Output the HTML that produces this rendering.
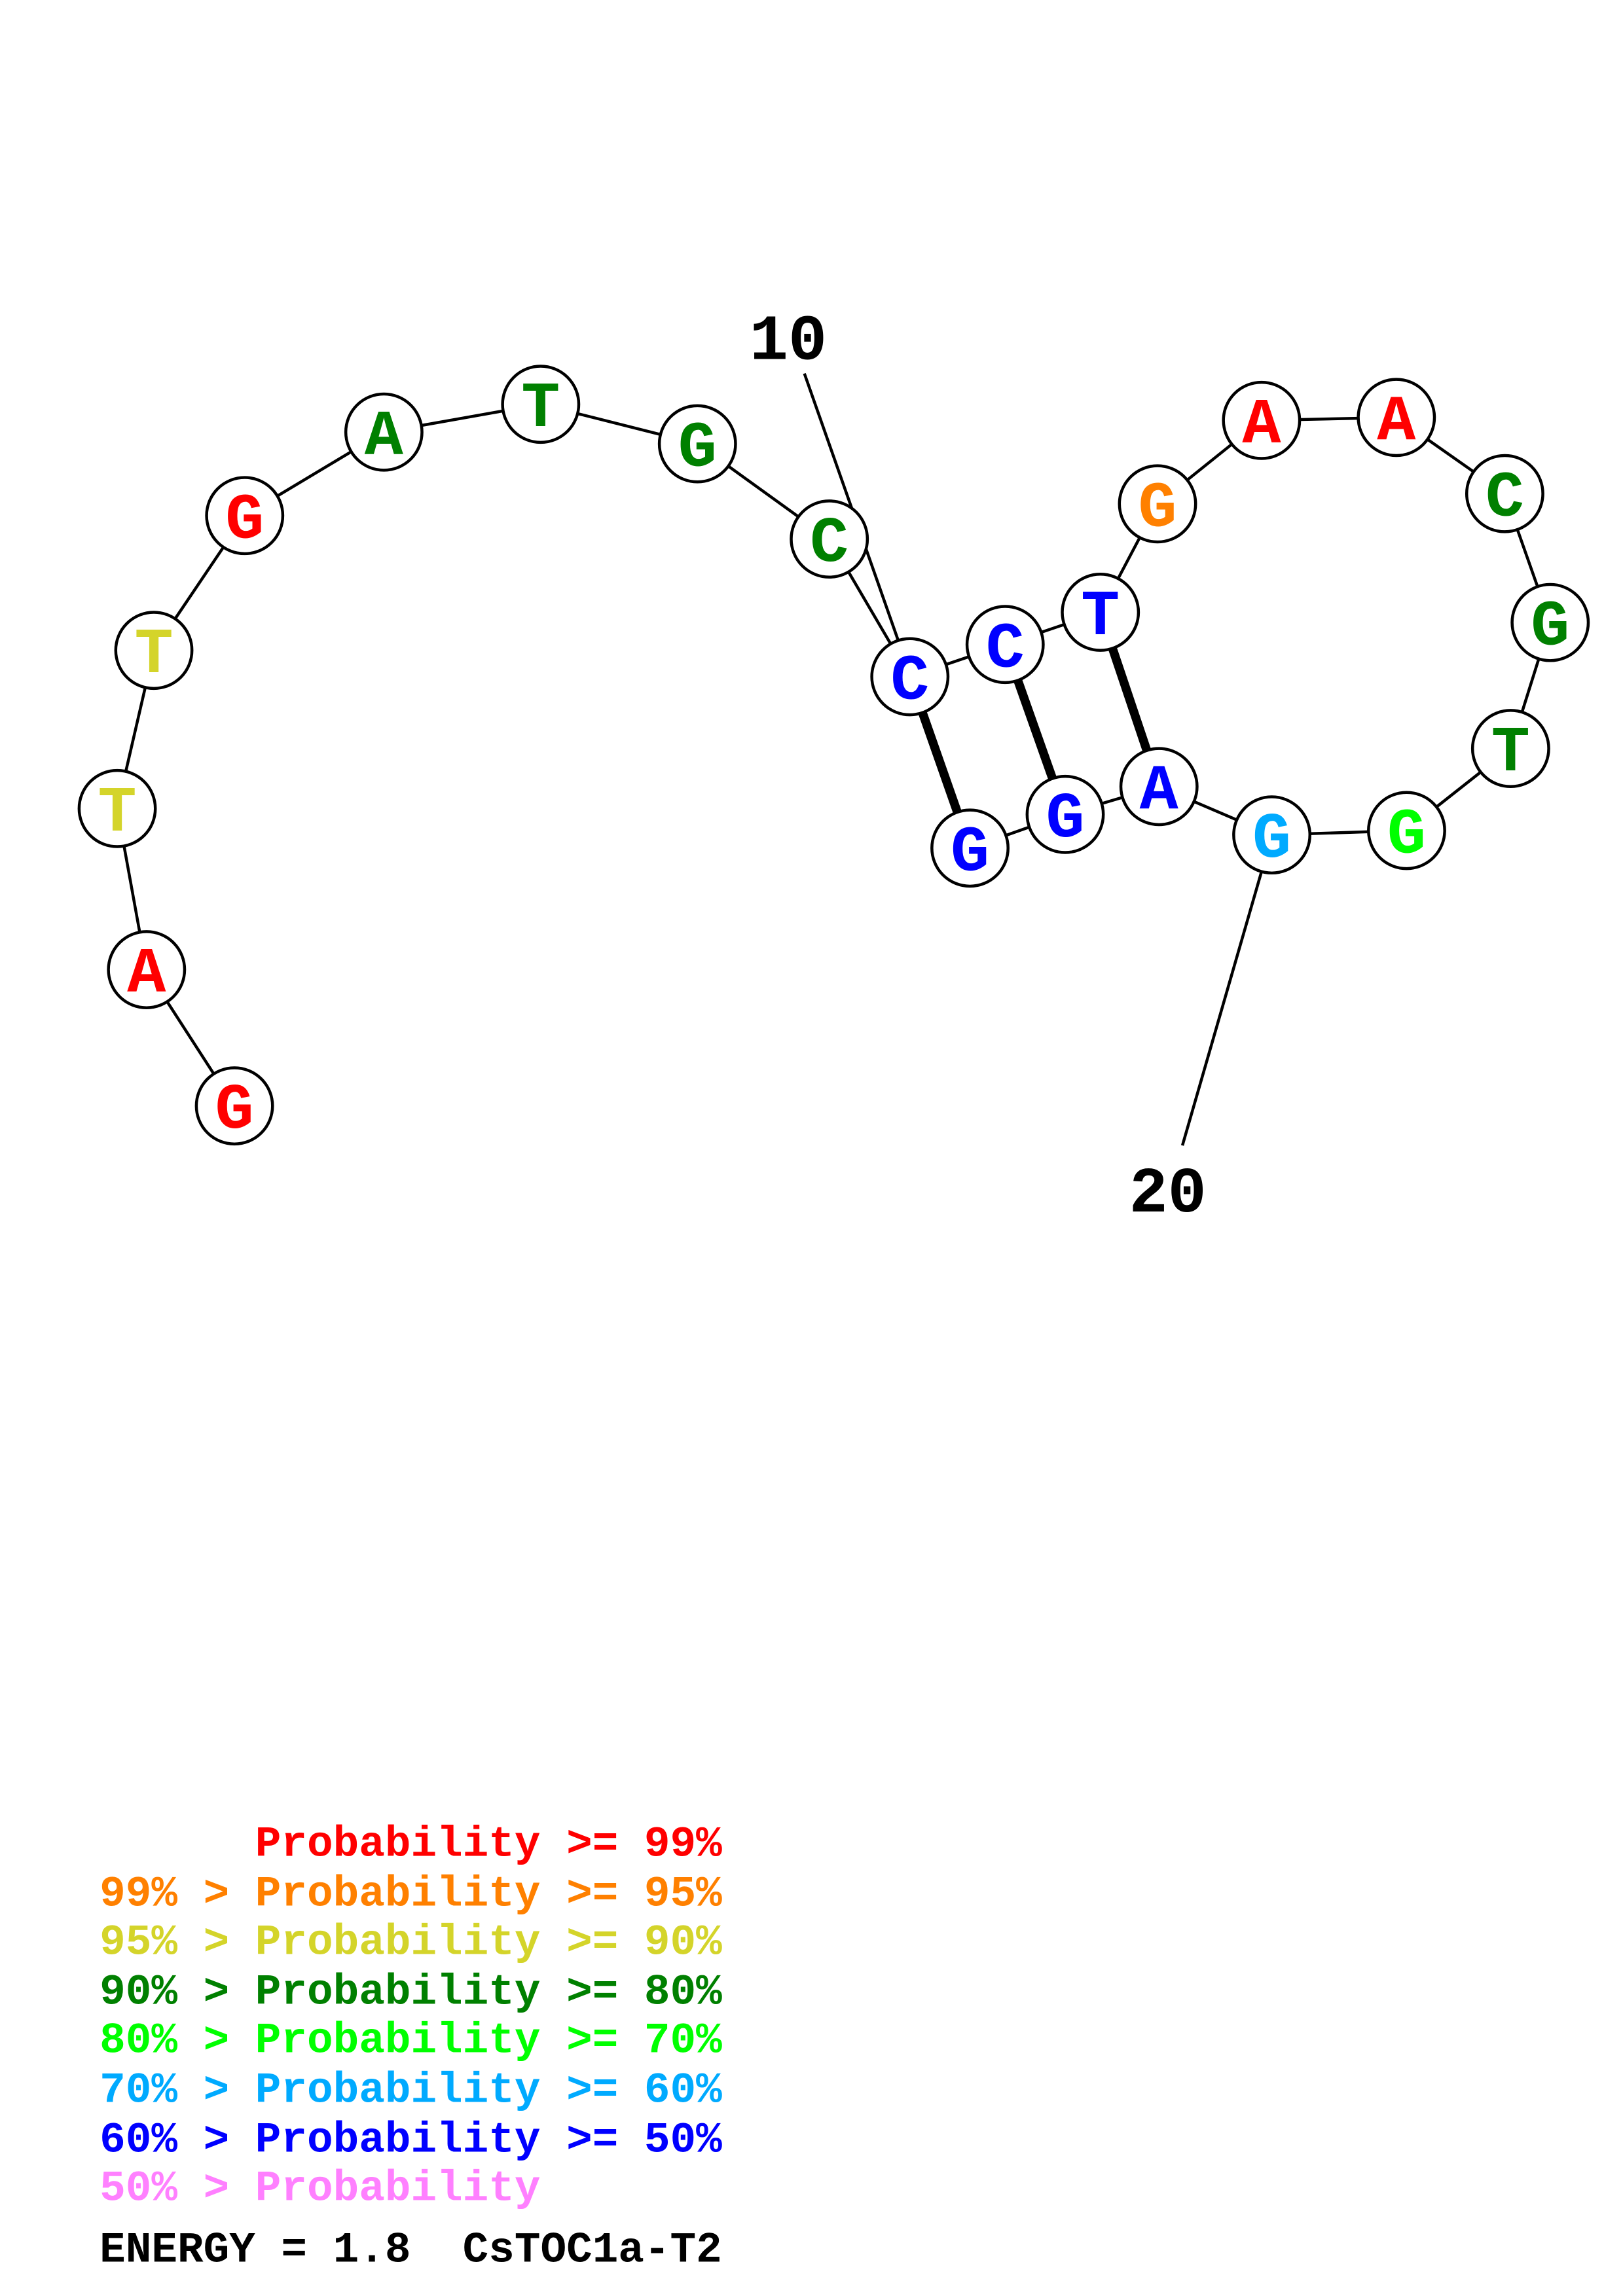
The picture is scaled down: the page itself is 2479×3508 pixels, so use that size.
<!DOCTYPE html>
<html><head><meta charset="utf-8"><style>html,body{margin:0;padding:0;background:#fff}svg{display:block}.pre{white-space:pre}</style></head>
<body>
<svg width="2479" height="3508" viewBox="0 0 1107.7 1567.5" preserveAspectRatio="none" xmlns="http://www.w3.org/2000/svg">
<rect width="1108" height="1568" fill="#fff"/>
<g stroke="#000" stroke-width="2" fill="none">
<polyline points="160,755 100,662 80,552 105,444 167,352 262,295 369,276 476,303 566,368 621,462 686,440 751,418 790,344 861,287 953,285 1027,337 1058,425 1031,511 960,567 868,570 791,537 727,556 662,579"/>
<line x1="549" y1="255" x2="614" y2="440"/>
<line x1="807" y1="782" x2="861" y2="595"/>
</g>
<g stroke="#000" stroke-width="6">
<line x1="621" y1="462" x2="662" y2="579"/>
<line x1="686" y1="440" x2="727" y2="556"/>
<line x1="751" y1="418" x2="791" y2="537"/>
</g>
<g stroke="#000" stroke-width="2" fill="#fff">
<circle cx="160" cy="755" r="26"/><circle cx="100" cy="662" r="26"/><circle cx="80" cy="552" r="26"/><circle cx="105" cy="444" r="26"/><circle cx="167" cy="352" r="26"/><circle cx="262" cy="295" r="26"/><circle cx="369" cy="276" r="26"/><circle cx="476" cy="303" r="26"/><circle cx="566" cy="368" r="26"/><circle cx="621" cy="462" r="26"/><circle cx="686" cy="440" r="26"/><circle cx="751" cy="418" r="26"/><circle cx="790" cy="344" r="26"/><circle cx="861" cy="287" r="26"/><circle cx="953" cy="285" r="26"/><circle cx="1027" cy="337" r="26"/><circle cx="1058" cy="425" r="26"/><circle cx="1031" cy="511" r="26"/><circle cx="960" cy="567" r="26"/><circle cx="868" cy="570" r="26"/><circle cx="791" cy="537" r="26"/><circle cx="727" cy="556" r="26"/><circle cx="662" cy="579" r="26"/>
</g>
<g font-family="Liberation Mono, monospace" font-weight="bold" font-size="44" text-anchor="middle">
<text x="160" y="770" fill="#f00">G</text><text x="100" y="677" fill="#f00">A</text><text x="80" y="567" fill="#d4d42a">T</text><text x="105" y="459" fill="#d4d42a">T</text><text x="167" y="367" fill="#f00">G</text><text x="262" y="310" fill="#008000">A</text><text x="369" y="291" fill="#008000">T</text><text x="476" y="318" fill="#008000">G</text><text x="566" y="383" fill="#008000">C</text><text x="621" y="477" fill="#00f">C</text><text x="686" y="455" fill="#00f">C</text><text x="751" y="433" fill="#00f">T</text><text x="790" y="359" fill="#ff8000">G</text><text x="861" y="302" fill="#f00">A</text><text x="953" y="300" fill="#f00">A</text><text x="1027" y="352" fill="#008000">C</text><text x="1058" y="440" fill="#008000">G</text><text x="1031" y="526" fill="#008000">T</text><text x="960" y="582" fill="#00ff00">G</text><text x="868" y="585" fill="#00aaff">G</text><text x="791" y="552" fill="#00f">A</text><text x="727" y="571" fill="#00f">G</text><text x="662" y="594" fill="#00f">G</text>
<text x="538" y="245" fill="#000">10</text><text x="797" y="827" fill="#000">20</text>
</g>
<g font-family="Liberation Mono, monospace" font-weight="bold" font-size="29.5" class="pre">
<text x="68" y="1267" fill="#f00" class="pre">      Probability &gt;= 99%</text>
<text x="68" y="1301" fill="#ff8000">99% &gt; Probability &gt;= 95%</text>
<text x="68" y="1334" fill="#d4d42a">95% &gt; Probability &gt;= 90%</text>
<text x="68" y="1368" fill="#008000">90% &gt; Probability &gt;= 80%</text>
<text x="68" y="1401" fill="#00ff00">80% &gt; Probability &gt;= 70%</text>
<text x="68" y="1435" fill="#00aaff">70% &gt; Probability &gt;= 60%</text>
<text x="68" y="1469" fill="#00f">60% &gt; Probability &gt;= 50%</text>
<text x="68" y="1502" fill="#ff80ff">50% &gt; Probability</text>
<text x="68" y="1544" fill="#000" class="pre">ENERGY = 1.8  CsTOC1a-T2</text>
</g>
</svg>
</body></html>
